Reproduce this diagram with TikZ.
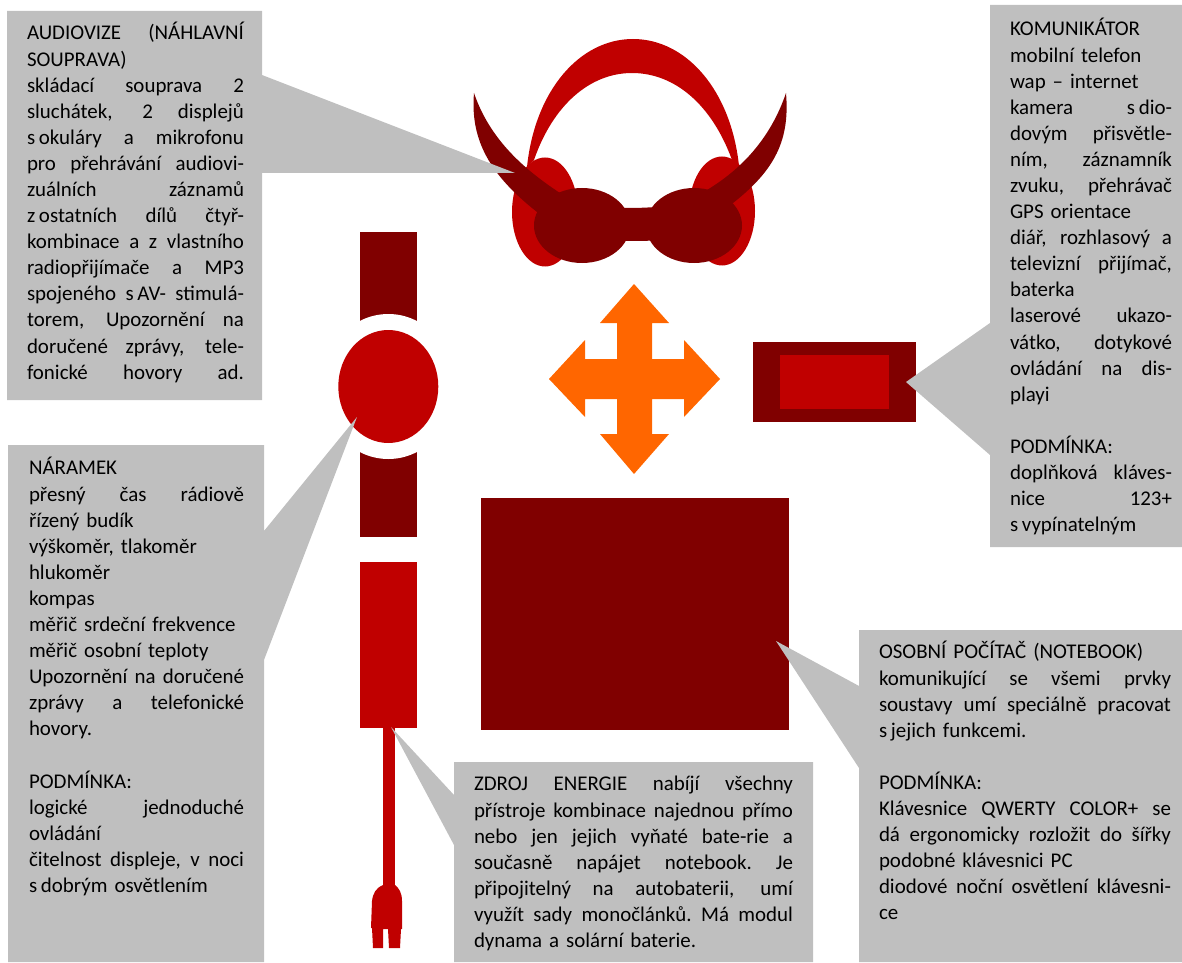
\documentclass[tikz,border=0pt]{standalone}
\usepackage{fontspec}
\setmainfont{Carlito}
\definecolor{darkred}{HTML}{800000}
\definecolor{brightred}{HTML}{C00000}
\definecolor{arroworange}{HTML}{FF6600}
\definecolor{calloutgray}{HTML}{BFBFBF}
\newlength{\blurbw}
\newcommand{\J}[1]{\leavevmode\hbox to\blurbw{\spaceskip=\fontdimen2\font plus 1fil\relax\xspaceskip=\spaceskip #1}}
\newcommand{\Sp}{\kern2.8pt }
\tikzset{
  callout/.style={fill=calloutgray,draw=none},
  dark/.style={fill=darkred,draw=none},
  red/.style={fill=brightred,draw=none},
  blurb/.style={anchor=north west,inner sep=0pt,outer sep=0pt,align=left,text=black,
    text width=#1,execute at begin node={\setlength{\blurbw}{#1}},
    font=\fontsize{15.7}{19.57}\selectfont}
}
\begin{document}
\begin{tikzpicture}[x=0.75pt,y=-0.75pt]
\useasboundingbox (0,0) rectangle (1182,963);
% headphones
\fill[red] (527,167) .. controls (535,90) and (580,39) .. (633,39) .. controls (686,39) and (731,90) .. (739,166)
  -- (732,160) .. controls (712,105) and (675,73) .. (632,73) .. controls (590,73) and (553,105) .. (534,160) -- cycle;
\fill[red] (545,212) ellipse [x radius=33,y radius=54.5];
\fill[red] (722,211) ellipse [x radius=33,y radius=54.5];
\fill[dark] (474,93) .. controls (490,140) and (525,170) .. (560,193) -- (575,215) -- (537,212)
  .. controls (490,175) and (470,140) .. (474,93) -- cycle;
\fill[dark] (786,93) .. controls (770,140) and (740,170) .. (707,190) -- (690,215) -- (733,203)
  .. controls (775,170) and (790,140) .. (786,93) -- cycle;
\fill[dark] (582,225.5) ellipse [x radius=48,y radius=37.5];
\fill[dark] (694,225.5) ellipse [x radius=48,y radius=37.5];
\fill[dark] (620,208) .. controls (632,208) and (642,208) .. (656,207) -- (656,240.5) .. controls (642,241) and (632,241) .. (620,241) -- cycle;
% watch
\fill[dark] (360,232) rectangle (417,537);
\fill[white] (388.3,386.5) ellipse [x radius=66.5,y radius=72.5];
\fill[red] (388.3,386.5) ellipse [x radius=50,y radius=56.5];
% battery, cord, plug
\fill[red] (360,562) rectangle (417,728);
\fill[red] (383,728) rectangle (395,885);
\fill[red] (383,885) .. controls (376,888) and (373,893) .. (372,901) -- (371,928) -- (372,928) -- (373,948) -- (383,948) -- (383,929) -- (388,929) -- (389,948) -- (400,948) -- (401,929) -- (402,929) -- (402,901) .. controls (402,893) and (399,888) .. (395,885) -- cycle;
% orange arrow
\fill[arroworange] (634,284) -- (669,323) -- (652,323) -- (652,359) -- (684,359) -- (684,340) -- (720,379) -- (684,417) -- (684,399) -- (652,399) -- (652,434) -- (669,434) -- (634,474) -- (600,434) -- (617,434) -- (617,399) -- (585,399) -- (585,417) -- (549,379) -- (585,340) -- (585,359) -- (617,359) -- (617,323) -- (600,323) -- cycle;
% communicator
\fill[dark] (753,342) rectangle (916,422);
\fill[red] (780,355) rectangle (889,409);
% notebook
\fill[dark] (481,498) rectangle (789,730);
% callouts
\fill[callout] (7,11) -- (262,11) -- (262,75) -- (515,173) -- (262,173) -- (262,400) -- (7,400) -- cycle;
\fill[callout] (990,5) -- (1182,5) -- (1182,547) -- (990,547) -- (990,455) -- (906,382) -- (990,323) -- cycle;
\fill[callout] (8,445) -- (264,445) -- (264,531) -- (357,417) -- (264,660) -- (264,962) -- (8,962) -- cycle;
\fill[callout] (454,762) -- (813,762) -- (813,962) -- (454,962) -- (454,845) -- (391,727) -- (454,795) -- cycle;
\fill[callout] (859,630) -- (1182,630) -- (1182,962) -- (859,962) -- (859,768) -- (776,641) -- (859,686) -- cycle;
% texts
\node[blurb=162.75pt] (audio) at (27,21.7) {\strut\J{AUDIOVIZE (NÁHLAVNÍ}\\
SOUPRAVA)\\
\J{skládací souprava 2}\\
\J{sluchátek, 2 displejů}\\
\J{s\Sp okuláry a mikrofonu}\\
\J{pro přehrávání audiovi-}\\
\J{zuálních záznamů}\\
\J{z\Sp ostatních dílů čtyř-}\\
\J{kombinace a z vlastního}\\
\J{radiopřijímače a MP3}\\
\J{spojeného s\Sp AV- stimulá-}\\
\J{torem, Upozornění na}\\
\J{doručené zprávy, tele-}\\
\J{fonické hovory ad.}};
\node[blurb=121.5pt] (komunikator) at (1010,17.7) {\strut KOMUNIKÁTOR\\
mobilní telefon\\
wap – internet\\
\J{kamera s\Sp dio-}\\
\J{dovým přisvětle-}\\
\J{ním, záznamník}\\
\J{zvuku, přehrávač}\\
GPS orientace\\
\J{diář, rozhlasový a}\\
\J{televizní přijímač,}\\
baterka\\
\J{laserové ukazo-}\\
\J{vátko, dotykové}\\
\J{ovládání na dis-}\\
playi\\
\mbox{}\\
PODMÍNKA:\\
\J{doplňková kláves-}\\
\J{nice 123+}\\
s\Sp vypínatelným};
\node[blurb=161.25pt] (naramek) at (29,456.7) {\strut NÁRAMEK\\
\J{přesný čas rádiově}\\
řízený budík\\
výškoměr, tlakoměr\\
hlukoměr\\
kompas\\
měřič srdeční frekvence\\
měřič osobní teploty\\
\J{Upozornění na doručené}\\
\J{zprávy a telefonické}\\
hovory.\\
\mbox{}\\
PODMÍNKA:\\
\J{logické jednoduché}\\
ovládání\\
\J{čitelnost displeje, v noci}\\
s\Sp dobrým osvětlením};
\node[blurb=239.25pt] (zdroj) at (474,772.7) {\strut\J{ZDROJ ENERGIE nabíjí všechny}\\
\J{přístroje kombinace najednou přímo}\\
\J{nebo jen jejich vyňaté bate-rie a}\\
\J{současně napájet notebook. Je}\\
\J{připojitelný na autobaterii, umí}\\
\J{využít sady monočlánků. Má modul}\\
dynama a solární baterie.};
\node[blurb=219pt] (osobni) at (879,640.7) {\strut OSOBNÍ POČÍTAČ (NOTEBOOK)\\
\J{komunikující se všemi prvky}\\
\J{soustavy umí speciálně pracovat}\\
s\Sp jejich funkcemi.\\
\mbox{}\\
PODMÍNKA:\\
\J{Klávesnice QWERTY COLOR+ se}\\
\J{dá ergonomicky rozložit do šířky}\\
podobné klávesnici PC\\
\J{diodové noční osvětlení klávesni-}\\
ce};
\end{tikzpicture}
\end{document}
